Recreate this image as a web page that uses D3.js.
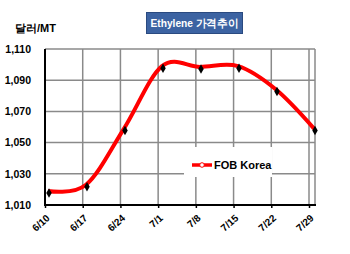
<!DOCTYPE html>
<html><head><meta charset="utf-8">
<script src="https://cdn.jsdelivr.net/npm/d3@7/dist/d3.min.js"></script>
<style>body{margin:0;background:#fff;}svg{display:block;font-family:Arial,"Liberation Sans",sans-serif;}</style>
</head><body>
<script>
const categories = ["6/10","6/17","6/24","7/1","7/8","7/15","7/22","7/29"];
const fobKorea = [1019, 1023, 1059, 1099, 1098.5, 1099, 1084, 1059];
const yTicks = [1010, 1030, 1050, 1070, 1090, 1110];
const seriesName = "FOB Korea";
const titleText = "Ethylene 가격추이";
const unitText = "달러/MT";

(function () {
const W = 350, H = 254;
const svg = d3.select("body").append("svg").attr("width", W).attr("height", H);

const pL = 45, pR = 315, pT = 49, pB = 205;
const y = d3.scaleLinear().domain([1010, 1110]).range([pB, pT]);
const xAxis = d3.scalePoint().domain(categories).range([pL, 309]);
const xData = d3.scalePoint().domain(categories).range([48, 314]);

// horizontal gridlines
svg.append("g").selectAll("line").data(yTicks).join("line")
  .attr("x1", pL).attr("x2", pR)
  .attr("y1", d => y(d)).attr("y2", d => y(d))
  .attr("stroke", "#8a8a8a").attr("stroke-width", 1.5);
// vertical gridlines
svg.append("g").selectAll("line").data(categories.slice(1)).join("line")
  .attr("x1", d => xAxis(d)).attr("x2", d => xAxis(d))
  .attr("y1", pT).attr("y2", pB)
  .attr("stroke", "#8a8a8a").attr("stroke-width", 1.5);
// right border
svg.append("line").attr("x1", pR).attr("x2", pR).attr("y1", pT).attr("y2", pB)
  .attr("stroke", "#8a8a8a").attr("stroke-width", 1.5);

// axes
const gx = svg.append("g").attr("transform", `translate(0,${pB})`)
  .call(d3.axisBottom(xAxis).tickSize(3).tickSizeOuter(0));
gx.select(".domain").remove();
gx.selectAll(".tick line").attr("stroke", "#000").attr("stroke-width", 1.5);
gx.selectAll(".tick text").remove();
gx.selectAll(".tick").append("text")
  .attr("font-size", 10).attr("font-weight", "bold").attr("fill", "#000")
  .attr("text-anchor", "end")
  .attr("transform", "translate(5,14) rotate(-42)")
  .text(d => d);

const gy = svg.append("g").attr("transform", `translate(${pL},0)`)
  .call(d3.axisLeft(y).tickValues(yTicks).tickFormat(d3.format(",")).tickSize(0).tickPadding(14));
gy.select(".domain").remove();
gy.selectAll(".tick text").attr("font-size", 10.5).attr("font-weight", "bold").attr("fill", "#000");

svg.append("line").attr("x1", pL).attr("x2", pL).attr("y1", pT).attr("y2", pB + 1)
  .attr("stroke", "#000").attr("stroke-width", 2);
svg.append("line").attr("x1", pL).attr("x2", pR + 1).attr("y1", pB).attr("y2", pB)
  .attr("stroke", "#000").attr("stroke-width", 2);

// legend background
svg.append("rect").attr("x", 184).attr("y", 147).attr("width", 88).attr("height", 30).attr("fill", "#fff");

// line
const line = d3.line().x((d, i) => xData(categories[i])).y(d => y(d)).curve(d3.curveCatmullRom.alpha(0));
svg.append("path").datum(fobKorea).attr("d", line)
  .attr("fill", "none").attr("stroke", "#ff0000").attr("stroke-width", 4).attr("stroke-linejoin", "round");

// markers
svg.append("g").selectAll("path").data(fobKorea).join("path")
  .attr("d", d3.symbol(d3.symbolDiamond, 26))
  .attr("transform", (d, i) => `translate(${xData(categories[i]) + 1},${y(d) + 2})`)
  .attr("fill", "#000");

// legend
svg.append("line").attr("x1", 192).attr("x2", 212).attr("y1", 165).attr("y2", 165)
  .attr("stroke", "#ff0000").attr("stroke-width", 3.5);
svg.append("circle").attr("cx", 202).attr("cy", 165).attr("r", 2.3).attr("fill", "#fff").attr("stroke", "#ff0000").attr("stroke-width", 1);
svg.append("text").attr("x", 214).attr("y", 169).attr("font-size", 11).attr("font-weight", "bold").text(seriesName);

// title
svg.append("rect").attr("x", 146.5).attr("y", 12.5).attr("width", 96).attr("height", 21)
  .attr("fill", "#3c63a2").attr("stroke", "#2a4a80").attr("stroke-width", 1);
svg.append("text").attr("x", 194.5).attr("y", 27).attr("text-anchor", "middle")
  .attr("font-size", 10.5).attr("font-weight", "bold").attr("fill", "#fff")
  .attr("textLength", 88).attr("lengthAdjust", "spacingAndGlyphs").text(titleText);

// unit label
svg.append("text").attr("x", 15).attr("y", 32).attr("font-size", 11).attr("font-weight", "bold").text(unitText);
})();
</script>
</body></html>
